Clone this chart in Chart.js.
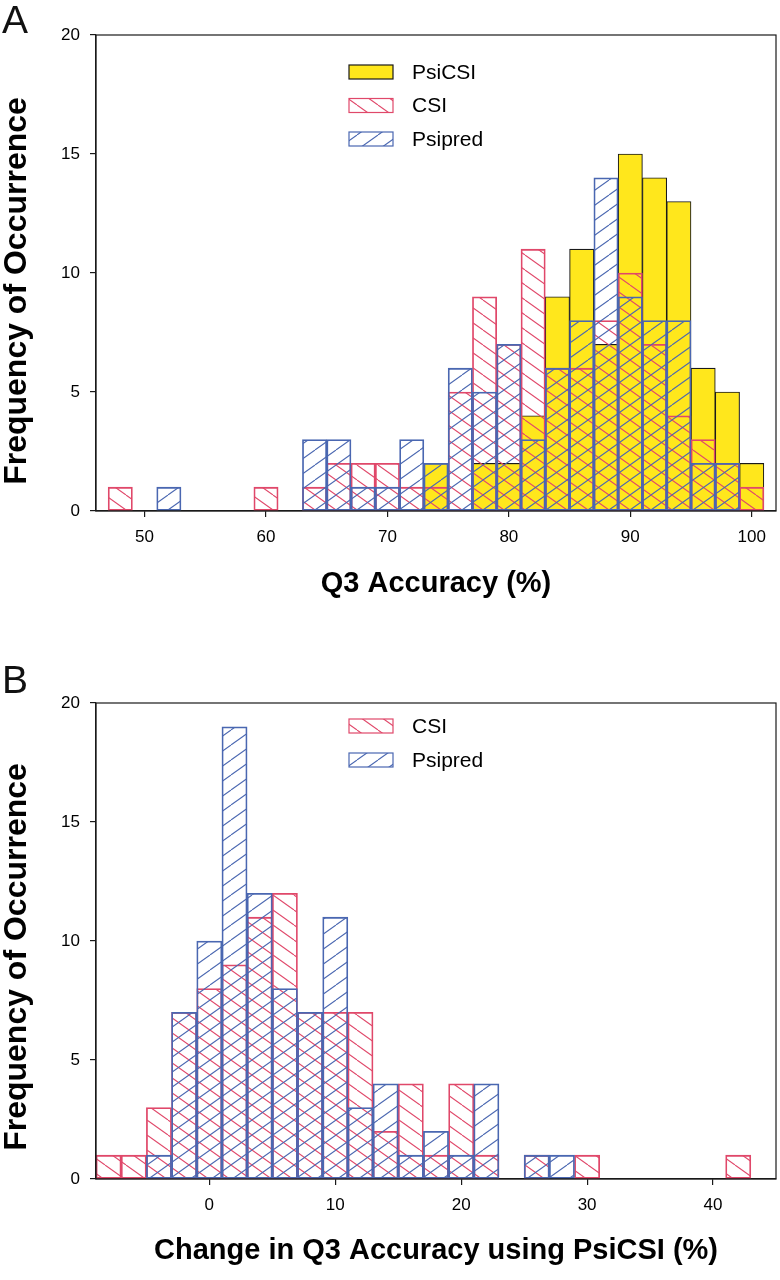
<!DOCTYPE html>
<html>
<head>
<meta charset="utf-8">
<script src="https://cdn.jsdelivr.net/npm/chart.js@4.4.0/dist/chart.umd.min.js"></script>
<style>
  body { margin: 0; background: #fff; }
  #page { position: relative; width: 780px; height: 1280px; font-family: "Liberation Sans", Arial, sans-serif; }
  .panel { position: absolute; left: 0; width: 780px; height: 640px; }
  .tag { position: absolute; left: 2px; font-size: 39px; line-height: 38px; color: #111; }
</style>
</head>
<body>
<div id="page">
  <div class="panel" style="top:0"><canvas id="chartA" width="780" height="640"></canvas></div>
  <div class="panel" style="top:640px"><canvas id="chartB" width="780" height="640"></canvas></div>
  <div class="tag" style="top:1px">A</div>
  <div class="tag" style="top:661px">B</div>
</div>
<script>
// panel A - Q3 accuracy, bins 2% wide (centres)
const binsA = [48, 50, 52, 54, 56, 58, 60, 62, 64, 66, 68, 70, 72, 74, 76, 78, 80, 82, 84, 86, 88, 90, 92, 94, 96, 98, 100];
const psicsiA = [0, 0, 0, 0, 0, 0, 0, 0, 0, 0, 0, 0, 0, 2, 0, 2, 2, 4, 9, 11, 7, 15, 14, 13, 6, 5, 2];
const csiA = [1, 0, 0, 0, 0, 0, 1, 0, 1, 2, 2, 2, 1, 1, 5, 9, 7, 11, 6, 6, 8, 10, 7, 4, 3, 2, 1];
const psipredA = [0, 0, 1, 0, 0, 0, 0, 0, 3, 3, 1, 1, 3, 2, 6, 5, 7, 3, 6, 8, 14, 9, 8, 8, 2, 2, 0];
const xTicksA = [50, 60, 70, 80, 90, 100];

// panel B - change in Q3 accuracy using PsiCSI
const binsB = [-8, -6, -4, -2, 0, 2, 4, 6, 8, 10, 12, 14, 16, 18, 20, 22, 24, 26, 28, 30, 32, 34, 36, 38, 40, 42];
const csiB = [1, 1, 3, 7, 8, 9, 11, 12, 7, 7, 7, 2, 4, 1, 4, 1, 0, 1, 0, 1, 0, 0, 0, 0, 0, 1];
const psipredB = [0, 0, 1, 7, 10, 19, 12, 8, 7, 11, 3, 4, 1, 2, 1, 4, 0, 1, 1, 0, 0, 0, 0, 0, 0, 0];
const xTicksB = [0, 10, 20, 30, 40];

const yTicks = [0, 5, 10, 15, 20];

const FONT = '"Liberation Sans", Arial, sans-serif';
const RED = '#e0486a';
const BLUE = '#4a67b1';
const YELLOW = '#ffe71c';
const INK = '#1a1a1a';

Chart.defaults.font.family = FONT;

// diagonal hatch fill, 'back' = \ , 'fwd' = /
function hatch(color, dir) {
  const w = 21, h = 15;
  const c = document.createElement('canvas');
  c.width = w; c.height = h;
  const g = c.getContext('2d');
  g.strokeStyle = color;
  g.lineWidth = 1.1;
  for (const dx of [-w, 0, w]) {
    g.beginPath();
    if (dir === 'back') { g.moveTo(dx, 0); g.lineTo(dx + w, h); }
    else { g.moveTo(dx, h); g.lineTo(dx + w, 0); }
    g.stroke();
  }
  return g.createPattern(c, 'repeat');
}

function points(bins, counts) {
  return bins.map((x, i) => ({ x: x, y: counts[i] })).filter(p => p.y > 0);
}

const frame = {
  id: 'frame',
  afterDatasetsDraw(chart) {
    const { ctx, chartArea: a } = chart;
    ctx.save();
    ctx.strokeStyle = INK;
    ctx.lineWidth = 1.2;
    ctx.strokeRect(a.left, a.top, a.right - a.left, a.bottom - a.top);
    ctx.restore();
  }
};

// y title drawn by hand, sits a bit below the plot centre in the original
const yTitle = {
  id: 'yTitle',
  afterDraw(chart, args, opts) {
    const ctx = chart.ctx;
    ctx.save();
    ctx.translate(25.5, opts.y);
    ctx.rotate(-Math.PI / 2);
    ctx.font = 'bold 32px ' + FONT;
    ctx.textAlign = 'center';
    ctx.textBaseline = 'alphabetic';
    ctx.fillStyle = '#000';
    ctx.fillText('Frequency of Occurrence', 0, 0);
    ctx.restore();
  }
};

const boxLegend = {
  id: 'boxLegend',
  afterDraw(chart, args, opts) {
    const ctx = chart.ctx;
    ctx.save();
    ctx.font = '21px ' + FONT;
    ctx.textBaseline = 'middle';
    chart.data.datasets.forEach((ds, i) => {
      const y = opts.y + i * opts.gap;
      ctx.fillStyle = ds.backgroundColor;
      ctx.fillRect(opts.x, y - 7, 44, 14);
      ctx.strokeStyle = ds.borderColor;
      ctx.lineWidth = 1.2;
      ctx.strokeRect(opts.x, y - 7, 44, 14);
      ctx.fillStyle = '#000';
      ctx.fillText(ds.label, opts.x + 63, y + 1);
    });
    ctx.restore();
  }
};

function makeChart(id, datasets, c) {
  return new Chart(document.getElementById(id), {
    type: 'bar',
    data: { datasets: datasets },
    options: {
      responsive: false,
      animation: false,
      events: [],
      layout: { padding: { top: c.padTop, right: 4, bottom: 0, left: 0 } },
      datasets: {
        bar: { grouped: false, barPercentage: 1, categoryPercentage: 1, borderWidth: 1.1, borderSkipped: false }
      },
      plugins: {
        legend: { display: false },
        tooltip: { enabled: false },
        boxLegend: { x: 349, y: c.legendY, gap: c.legendGap },
        yTitle: { y: c.yTitleY }
      },
      scales: {
        x: {
          type: 'linear',
          min: c.xmin,
          max: c.xmax,
          offset: false,
          afterBuildTicks: s => { s.ticks = c.xTicks.map(v => ({ value: v })); },
          afterFit: s => { s.height = c.xHeight; },
          grid: { offset: false, drawOnChartArea: false, drawTicks: true, tickLength: 6, color: INK, lineWidth: 1.2 },
          border: { display: true, color: INK, width: 1.2 },
          ticks: { color: '#000', font: { size: 17 }, padding: 10, maxRotation: 0 },
          title: {
            display: true, text: c.xTitle, color: '#000',
            font: { size: 29, weight: 'bold', lineHeight: 1 },
            padding: { top: 0, bottom: c.titlePad }
          }
        },
        y: {
          min: 0,
          max: 20,
          afterBuildTicks: s => { s.ticks = yTicks.map(v => ({ value: v })); },
          afterFit: s => { s.width = 96; },
          grid: { drawOnChartArea: false, drawTicks: true, tickLength: 6, color: INK, lineWidth: 1.2 },
          border: { display: true, color: INK, width: 1.2 },
          ticks: { color: '#000', font: { size: 17 }, padding: 10 },
          title: { display: false }
        }
      }
    },
    plugins: [frame, boxLegend, yTitle]
  });
}

const csiFill = hatch(RED, 'back');
const psipredFill = hatch(BLUE, 'fwd');

makeChart('chartA', [
  { label: 'PsiCSI', data: points(binsA, psicsiA), backgroundColor: YELLOW, borderColor: INK, order: 3 },
  { label: 'CSI', data: points(binsA, csiA), backgroundColor: csiFill, borderColor: RED, order: 2 },
  { label: 'Psipred', data: points(binsA, psipredA), backgroundColor: psipredFill, borderColor: BLUE, order: 1 }
], {
  xmin: 46, xmax: 102, xTicks: xTicksA, xTitle: 'Q3 Accuracy (%)',
  padTop: 35, xHeight: 129, titlePad: 42, legendY: 72, legendGap: 33.5, yTitleY: 291
});

makeChart('chartB', [
  { label: 'CSI', data: points(binsB, csiB), backgroundColor: csiFill, borderColor: RED, order: 2 },
  { label: 'Psipred', data: points(binsB, psipredB), backgroundColor: psipredFill, borderColor: BLUE, order: 1 }
], {
  xmin: -9, xmax: 45, xTicks: xTicksB, xTitle: 'Change in Q3 Accuracy using PsiCSI (%)',
  padTop: 63, xHeight: 101, titlePad: 15, legendY: 86, legendGap: 34, yTitleY: 317
});
</script>
</body>
</html>
